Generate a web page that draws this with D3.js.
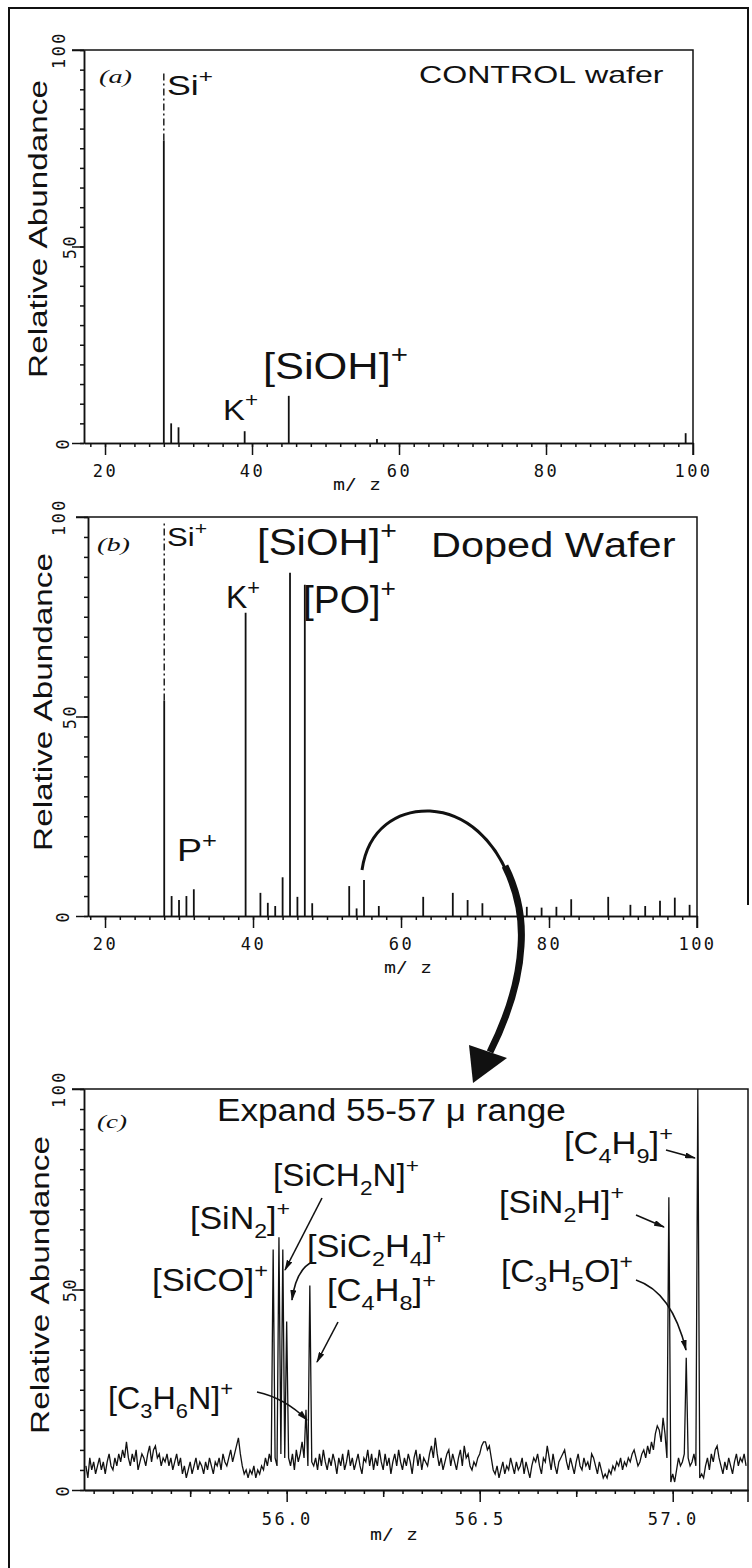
<!DOCTYPE html>
<html>
<head>
<meta charset="utf-8">
<script src="https://cdn.jsdelivr.net/npm/d3@7"></script>
<title>SIMS spectra</title>
<style>
body{margin:0;background:#fff;}
svg{display:block;}
.lbl{font-family:"Liberation Sans",Arial,sans-serif;fill:#111;}
.it{font-family:"Liberation Serif",serif;font-style:italic;fill:#111;}
.num{font-family:"DejaVu Sans Mono",monospace;fill:#111;}
.axis path,.axis line{stroke:#111;stroke-width:1.5;}
</style>
</head>
<body>
<svg id="fig"></svg>
<script>
// ---- values ----
// (a) control wafer, [m/z, relative abundance]
const peaksA = [[28,94],[29,5],[30,4],[39,3],[45,12],[57,1],[99,2.5]]
// (b) doped wafer
const peaksB = [[28,99],[29,5],[30,4],[31,5],[32,6.7],[39,76],[41,5.8],[42,3.3],[43,2.5],[44,9.7],
  [45,86],[46,4.8],[47,83],[48,3.2],[53,7.5],[54,1.9],[55,9],[57,2.5],[63,4.8],[67,5.8],[69,4],
  [71,3.2],[77,2.3],[79,2.1],[81,2.3],[83,4.2],[88,4.8],[91,2.8],[93,2.5],[95,3.8],[97,4.6],[99,2.8]]
const xTicksAB = [20,40,60,80,100]
const yTicks = [0,50,100]
// (c) expanded trace, one value every 0.005 u starting at 55.48
const traceStart = 55.48, traceStep = 0.005
const traceC = [
  6,3,8,5,7,4,6,8,5,7, 4,7,9,6,5,8,6,9,7,10, 8,12,8,6,9,7,10,5,7,9, 8,6,9,11,7,10,11,8,9,6,
  8,7,9,6,8,5,7,9,6,8, 4,6,3,5,7,4,6,8,5,7, 6,4,7,5,8,6,4,7,6,8, 5,9,7,6,8,10,7,9,11,13,
  9,6,4,5,3,5,4,6,3,5, 4,6,5,8,6,9,7,5,8,6, 7,9,6,8,5,8,6,9,5,10, 7,9,12,8,11,6,4,7,6,8,
  5,9,6,10,7,5,8,6,9,7, 4,8,6,9,5,7,10,6,8,5, 7,9,6,4,8,7,10,6,9,5, 8,6,10,7,5,9,6,8,4,7,
  9,6,10,7,5,8,6,9,7,4, 8,10,6,9,5,8,7,6,9,11, 8,13,9,6,8,5,7,9,10,6, 9,7,5,8,10,6,11,8,9,6,
  5,7,6,8,9,11,12,12,10,11, 8,5,4,6,3,5,7,4,6,5, 8,6,4,7,5,6,8,4,7,5, 3,6,8,7,9,6,4,8,7,11,
  8,5,9,6,4,7,8,9,10,7, 5,8,6,4,7,9,6,5,8,6, 7,5,9,8,6,4,7,5,3,4, 3,5,4,6,5,7,6,8,5,7,
  6,8,7,9,10,8,6,7,9,10, 8,11,9,12,10,14,16,15,12,18, 14,8,5,2,4,2,5,8,6,7, 9,5,8,6,7,9,6,5,3,4,
  3,6,8,5,9,7,10,11,8,6, 4,7,5,8,6,4,7,9,6,8, 7,9,6]
const peaksC = [[55.965,60],[55.98,63],[55.99,60],[56.0,42],[56.05,20],[56.06,51],[56.99,73],[57.035,33],[57.065,100]]
const xTicksC = [56.0,56.5,57.0]

const W = 752, H = 1568
const svg = d3.select('#fig').attr('width',W).attr('height',H)
svg.append('rect').attr('width',W).attr('height',H).attr('fill','#fff')

svg.append('defs').append('marker').attr('id','ah')
  .attr('markerUnits','userSpaceOnUse').attr('markerWidth',11).attr('markerHeight',6)
  .attr('refX',10).attr('refY',3).attr('orient','auto')
  .append('path').attr('d','M0,0 L11,3 L0,6 Z').attr('fill','#111')

// outer frame
svg.append('path').attr('d','M9,1568 L9,8 L748,8 L748,905')
  .attr('fill','none').attr('stroke','#111').attr('stroke-width',2)

function label(x,y,str,size,w,cls,rot){
  let t = svg.append('text').attr('class',cls||'lbl').attr('font-size',size)
  if(rot) t.attr('text-anchor','middle')
  // "_" = subscript char, "^" = superscript char
  let shift = 0
  for(let i=0;i<str.length;i++){
    let c = str[i]
    if(c==='_'||c==='^'){
      let d = c==='_' ? size*0.28 : -size*0.42
      t.append('tspan').attr('font-size',size*0.68).attr('dy',d-shift).text(str[i+1])
      shift = d; i++
    } else {
      t.append('tspan').attr('dy',-shift).text(c)
      shift = 0
    }
  }
  let bw = t.node().getBBox().width
  t.attr('transform',`translate(${x},${y})`+(rot?' rotate(-90)':'')+` scale(${w/bw},1)`)
}

function panel(p){
  const x = d3.scaleLinear().domain(p.xd).range([p.left,p.right])
  const y = d3.scaleLinear().domain([0,100]).range([p.base,p.top])
  const g = svg.append('g')
  // frame top + right
  g.append('path').attr('d',`M${p.left-12},${y(100)} L${p.right},${y(100)} L${p.right},${p.base+12}`)
    .attr('fill','none').attr('stroke','#111').attr('stroke-width',1.5)
  // x axis
  g.append('g').attr('class','axis').attr('transform',`translate(0,${p.base})`)
    .call(d3.axisBottom(x).tickValues(p.minor).tickSize(4).tickSizeOuter(0).tickFormat(''))
  if(p.mid) g.append('g').attr('class','axis').attr('transform',`translate(0,${p.base})`)
    .call(d3.axisBottom(x).tickValues(p.mid).tickSize(7).tickSizeOuter(0).tickFormat(''))
  let xm = g.append('g').attr('class','axis').attr('transform',`translate(0,${p.base})`)
    .call(d3.axisBottom(x).tickValues(p.major).tickSize(12).tickSizeOuter(0).tickFormat(p.fmt))
  xm.selectAll('text').attr('class','num').attr('font-size',17).style('letter-spacing','2.5px')
    .attr('y',p.tickBase-p.base).attr('dy',0)
  // y axis
  g.append('g').attr('class','axis').attr('transform',`translate(${p.left},0)`)
    .call(d3.axisLeft(y).tickValues(d3.range(0,101,5)).tickSize(4).tickSizeOuter(0).tickFormat(''))
  g.append('g').attr('class','axis').attr('transform',`translate(${p.left},0)`)
    .call(d3.axisLeft(y).tickValues(yTicks).tickSize(12).tickSizeOuter(0).tickFormat(''))
  yTicks.forEach(v=>{
    g.append('text').attr('class','num').attr('font-size',17).style('letter-spacing','2.5px')
      .attr('text-anchor','middle').attr('dy','0.36em')
      .attr('transform',`translate(${p.yLabX[v]},${y(v)}) rotate(-90)`).text(v)
  })
  label(p.mzLeft,p.mzBase,'m/ z',15,48,'num')
  label(p.ylabX,p.ylabY,'Relative Abundance',26,296,'lbl',true)
  return {x,y,g}
}

const yLabX = {0:63,50:70,100:59}
// stick spectrum; the main Si+ line is drawn broken above "solid"
function sticks(P,data,dashedMz,solid){
  data.forEach(d=>{
    let xx = P.x(d[0])
    let line = (v0,v1)=>P.g.append('line').attr('x1',xx).attr('x2',xx)
      .attr('y1',P.y(v0)).attr('y2',P.y(v1)).attr('stroke','#111').attr('stroke-width',1.8)
    if(d[0]===dashedMz){
      line(0,solid)
      line(solid,d[1]).attr('stroke-width',1.4).attr('stroke-dasharray','7,3,2,3')
    } else line(0,d[1])
  })
}

// ---- (a) ----
const A = panel({xd:[17.14,100],left:84,right:693,base:443,top:50,
  minor:d3.range(18,100,2),major:xTicksAB,fmt:d3.format('d'),tickBase:477,
  yLabX:yLabX,mzLeft:333,mzBase:490,ylabX:47,ylabY:229})
sticks(A,peaksA,28,77)
label(99,83,'(a)',18,33,'it')
label(167,95,'Si^+',28,46)
label(419,83,'CONTROL wafer',23,244)
label(223,420,'K^+',30,35)
label(263,379,'[SiOH]^+',37,145)

// ---- (b) ----
const B = panel({xd:[17.7,100],left:88,right:697,base:916,top:517,
  minor:d3.range(18,100,2),major:xTicksAB,fmt:d3.format('d'),tickBase:950,
  yLabX:yLabX,mzLeft:384,mzBase:973,ylabX:52,ylabY:702})
sticks(B,peaksB,28,54)
label(97,551,'(b)',18,33,'it')
label(167,546,'Si^+',26,40)
label(257,555,'[SiOH]^+',37,140)
label(226,608,'K^+',32,34)
label(303,613,'[PO]^+',38,93)
label(177,861,'P^+',32,40)
label(431,557,'Doped Wafer',36,243)

// big curved arrow from (b) to (c)
svg.append('path').attr('d','M362,870 C368,828 398,810 430,811 C466,813 495,840 510,880')
  .attr('fill','none').attr('stroke','#111').attr('stroke-width',3)
svg.append('path').attr('d','M505,866 C518,892 523,918 521,946 C519,985 506,1020 490,1052')
  .attr('fill','none').attr('stroke','#111').attr('stroke-width',7)
svg.append('path').attr('d','M469,1045 L507,1058 L473,1083 Z').attr('fill','#111')

// ---- (c) ----
const C = panel({xd:[55.475,57.195],left:84,right:748,base:1490,top:1089,
  minor:d3.range(0,34).map(i=>+(55.5+i*0.05).toFixed(2)),
  mid:[55.75,56.25,56.75],major:xTicksC,fmt:d3.format('.1f'),tickBase:1525,
  yLabX:yLabX,mzLeft:370,mzBase:1540,ylabX:49,ylabY:1285})
const vals = traceC.slice()
peaksC.forEach(d=>{ vals[Math.round((d[0]-traceStart)/traceStep)] = d[1] })
const pts = vals.map((v,i)=>[traceStart+i*traceStep,v])
C.g.append('path').attr('d',d3.line().x(d=>C.x(d[0])).y(d=>C.y(d[1]))(pts))
  .attr('fill','none').attr('stroke','#111').attr('stroke-width',1.3)

label(97,1128,'(c)',18,30,'it')
label(217,1121,'Expand 55-57 μ range',31,349)
label(564,1154,'[C_4H_9]^+',31,109)
label(499,1213,'[SiN_2H]^+',31,125)
label(501,1282,'[C_3H_5O]^+',31,132)
label(273,1186,'[SiCH_2N]^+',31,146)
label(190,1229,'[SiN_2]^+',31,100)
label(307,1257,'[SiC_2H_4]^+',31,139)
label(152,1291,'[SiCO]^+',31,116)
label(327,1301,'[C_4H_8]^+',31,109)
label(108,1409,'[C_3H_6N]^+',31,125)

const arrows = ['M322,1198 L285,1270','M312,1262 Q296,1270 292,1300','M338,1322 L317,1362',
  'M257,1392 Q285,1398 307,1420','M666,1150 L695,1158','M636,1215 L664,1227','M636,1280 Q672,1292 686,1350']
arrows.forEach(d=>{
  svg.append('path').attr('d',d).attr('fill','none').attr('stroke','#111')
    .attr('stroke-width',1.6).attr('marker-end','url(#ah)')
})
</script>
</body>
</html>
